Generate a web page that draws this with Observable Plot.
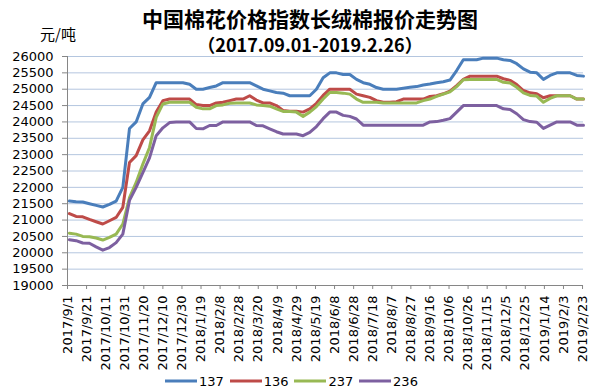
<!DOCTYPE html>
<html><head><meta charset="utf-8">
<script src="https://cdn.jsdelivr.net/npm/d3@7"></script>
<script src="https://cdn.jsdelivr.net/npm/@observablehq/plot@0.6"></script>
<style>
body{margin:0;background:#fff;}
#wrap{position:relative;width:599px;height:389px;overflow:hidden;background:#fff;}
#title{position:absolute;left:0;width:620px;top:6px;text-align:center;font:bold 21px/24px "Noto Sans CJK SC",sans-serif;color:#000;}
#subtitle{position:absolute;left:0;width:620px;top:33px;text-align:center;font:bold 18px/22px "Noto Sans CJK SC",sans-serif;color:#000;}
#unit{position:absolute;left:40px;top:24px;font:15px/20px "Noto Sans CJK SC",sans-serif;color:#000;}
#chart{position:absolute;left:0;top:0;}
.leg{position:absolute;top:373px;height:16px;display:flex;align-items:center;font:13px "DejaVu Sans",sans-serif;color:#000;}
</style></head><body>
<div id="wrap">
  <div id="chart"></div>
  <div id="title">中国棉花价格指数长绒棉报价走势图</div>
  <div id="subtitle">（2017.09.01-2019.2.26）</div>
  <div id="unit">元/吨</div>
</div>
<script>
const seriesNames = ["137", "136", "237", "236"];
const seriesColors = ["#4a7ebb", "#be4b48", "#98b954", "#7d60a0"];

const s137 = [21580,21560,21550,21500,21450,21400,21480,21580,22000,23800,
24000,24550,24750,25200,25200,25200,25200,25200,25150,25000,
25000,25050,25100,25200,25200,25200,25200,25200,25100,25000,
24950,24900,24880,24800,24800,24800,24800,25000,25350,25500,
25500,25450,25450,25300,25200,25150,25050,25000,25000,25000,
25030,25060,25080,25130,25160,25200,25230,25280,25570,25900,
25900,25900,25950,25950,25950,25900,25880,25780,25620,25520,
25500,25300,25420,25500,25500,25500,25420,25400];

const s136 = [21200,21110,21100,21020,20950,20880,20980,21080,21390,22760,
22970,23450,23730,24300,24650,24700,24700,24700,24700,24530,
24500,24500,24580,24600,24650,24700,24700,24800,24670,24580,
24580,24500,24350,24330,24330,24300,24400,24570,24810,25000,
25000,25000,25000,24850,24800,24750,24650,24600,24600,24620,
24700,24700,24700,24700,24780,24800,24860,24940,25110,25300,
25400,25400,25400,25400,25400,25320,25270,25140,24960,24890,
24860,24740,24800,24800,24800,24800,24700,24700];

const s237 = [20600,20570,20500,20490,20450,20390,20470,20570,20880,21690,
22150,22710,23220,24140,24550,24600,24600,24600,24600,24450,
24400,24400,24500,24520,24570,24580,24580,24580,24520,24500,
24480,24400,24320,24320,24300,24170,24300,24470,24700,24900,
24900,24880,24850,24700,24600,24600,24600,24580,24580,24580,
24580,24580,24580,24650,24700,24780,24850,24920,25080,25290,
25300,25300,25300,25300,25300,25210,25190,25060,24890,24810,
24790,24600,24720,24800,24800,24800,24700,24700];

const s236 = [20400,20370,20300,20290,20180,20080,20160,20310,20570,21600,
22000,22450,22900,23580,23820,23980,24000,24000,24000,23800,
23790,23890,23890,24000,24000,24000,24000,24000,23890,23880,
23790,23700,23630,23630,23630,23580,23680,23860,24100,24300,
24300,24200,24170,24090,23900,23900,23900,23900,23900,23900,
23900,23900,23900,23900,24000,24010,24050,24100,24300,24500,
24500,24500,24500,24500,24500,24400,24380,24250,24070,24010,
23990,23800,23900,24000,24000,24000,23900,23900];

const firstDate = "2017/9/3";   // weekly observations
const xStart = "2017/9/1";
const xEnd = "2019/2/24";
const tickLabels = ["2017/9/1","2017/9/21","2017/10/11","2017/10/31","2017/11/20","2017/12/10","2017/12/30",
"2018/1/19","2018/2/8","2018/2/28","2018/3/20","2018/4/9","2018/4/29","2018/5/19","2018/6/8","2018/6/28",
"2018/7/18","2018/8/7","2018/8/27","2018/9/16","2018/10/6","2018/10/26","2018/11/15","2018/12/5","2018/12/25",
"2019/1/14","2019/2/3","2019/2/23"];
const yTicks = [19000,19500,20000,20500,21000,21500,22000,22500,23000,23500,24000,24500,25000,25500,26000];

const parse = d3.utcParse("%Y/%m/%d");
const fmt = d => `${d.getUTCFullYear()}/${d.getUTCMonth()+1}/${d.getUTCDate()}`;
const t0 = parse(firstDate);
const dates = s137.map((_, i) => d3.utcDay.offset(t0, 7 * i));
const tickDates = tickLabels.map(parse);
const allSeries = [s137, s136, s237, s236];

const rows = [];
allSeries.forEach((arr, si) => arr.forEach((v, i) => rows.push({date: dates[i], value: v, name: seriesNames[si]})));

const chart = Plot.plot({
  width: 599, height: 389,
  marginTop: 56, marginBottom: 104, marginLeft: 67, marginRight: 16,
  style: {fontFamily: "DejaVu Sans", fontSize: "13px", color: "#000", background: "transparent", overflow: "visible"},
  x: {type: "utc", domain: [parse(xStart), parse(xEnd)]},
  y: {domain: [19000, 26000]},
  color: {domain: seriesNames, range: seriesColors},
  marks: [
    Plot.gridY(yTicks, {stroke: "#b4c6df", strokeOpacity: 1, strokeWidth: 1}),
    Plot.ruleX([parse(xStart)], {stroke: "#868686", strokeWidth: 1}),
    Plot.ruleY([19000], {stroke: "#868686", strokeWidth: 1}),
    Plot.axisY(yTicks, {tickSize: 5, tickPadding: 9, stroke: "#868686", tickFormat: d => String(d), label: null, fontSize: 13}),
    Plot.axisX(tickDates, {tickRotate: -90, tickSize: 4, tickPadding: 6, stroke: "#868686", tickFormat: fmt, label: null, fontSize: 13}),
    Plot.lineY(rows, {x: "date", y: "value", z: "name", stroke: "name", strokeWidth: 3, strokeLinejoin: "round", strokeLinecap: "round"})
  ]
});
document.getElementById("chart").appendChild(chart);

// legend
const wrap = document.getElementById("wrap");
const legStart = 165, legStep = 64.7;
seriesNames.forEach((n, i) => {
  const div = document.createElement("div");
  div.className = "leg";
  div.style.left = (legStart + i * legStep) + "px";
  div.innerHTML = `<svg width="32" height="6" style="margin-right:2px"><line x1="0" x2="32" y1="3" y2="3" stroke="${seriesColors[i]}" stroke-width="3"/></svg><span>${n}</span>`;
  wrap.appendChild(div);
});
</script>
</body></html>
